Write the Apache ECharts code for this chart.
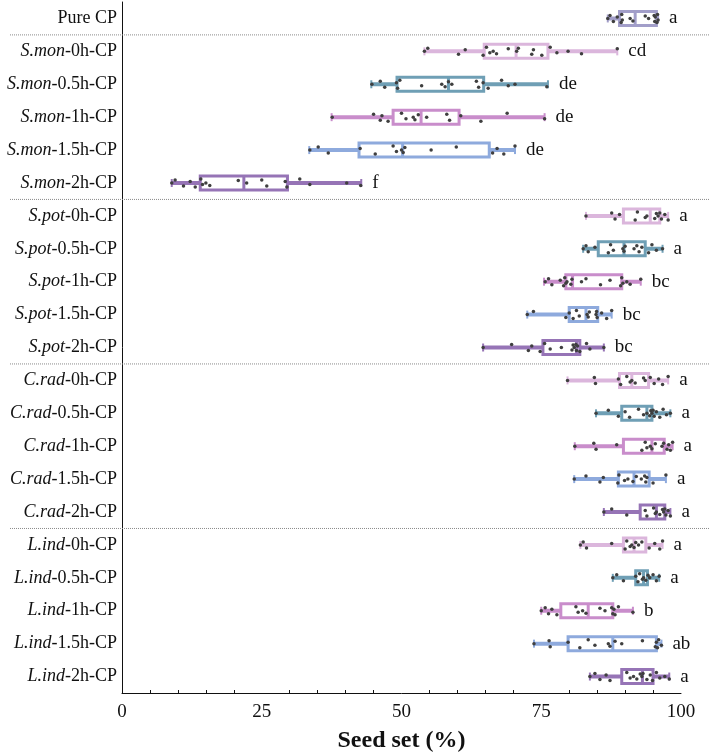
<!DOCTYPE html>
<html>
<head>
<meta charset="utf-8">
<script src="https://cdn.jsdelivr.net/npm/echarts@6/dist/echarts.min.js"></script>
<style>
html, body { margin: 0; padding: 0; background: #fff; }
#chart { width: 709px; height: 752px; }
</style>
</head>
<body>
<div id="chart"></div>
<script>
// groups, top to bottom
var categories = [
  'Pure CP',
  'S.mon-0h-CP', 'S.mon-0.5h-CP', 'S.mon-1h-CP', 'S.mon-1.5h-CP', 'S.mon-2h-CP',
  'S.pot-0h-CP', 'S.pot-0.5h-CP', 'S.pot-1h-CP', 'S.pot-1.5h-CP', 'S.pot-2h-CP',
  'C.rad-0h-CP', 'C.rad-0.5h-CP', 'C.rad-1h-CP', 'C.rad-1.5h-CP', 'C.rad-2h-CP',
  'L.ind-0h-CP', 'L.ind-0.5h-CP', 'L.ind-1h-CP', 'L.ind-1.5h-CP', 'L.ind-2h-CP'
];
var letters = ['a', 'cd', 'de', 'de', 'de', 'f', 'a', 'a', 'bc', 'bc', 'bc',
  'a', 'a', 'a', 'a', 'a', 'a', 'a', 'b', 'ab', 'a'];

// box stats
var boxMin = [86.9, 54.1, 44.6, 37.5, 33.5, 8.9, 83.0, 82.5, 75.5, 72.5, 64.6,
  79.7, 84.8, 81.0, 80.9, 86.2, 82.0, 87.8, 75.0, 73.7, 83.7];
var boxQ1 = [89.0, 64.8, 49.2, 48.5, 42.4, 14.0, 89.7, 85.2, 79.4, 80.0, 75.3,
  89.0, 89.4, 89.7, 88.8, 92.7, 89.7, 91.9, 78.5, 79.8, 89.4];
var boxMed = [91.8, 70.5, 58.4, 53.5, 50.2, 21.8, 94.5, 89.8, 80.6, 83.0, 81.3,
  91.2, 93.9, 94.8, 91.6, 95.6, 91.6, 93.3, 83.4, 87.8, 93.1];
var boxQ3 = [95.6, 76.2, 64.7, 60.3, 65.7, 29.6, 96.2, 93.6, 89.4, 85.1, 81.9,
  94.2, 94.8, 97.0, 94.3, 97.1, 93.7, 94.0, 87.8, 95.6, 95.0];
var boxMax = [95.9, 88.6, 76.2, 75.6, 70.3, 42.8, 97.7, 96.7, 92.8, 87.6, 86.2,
  97.7, 98.1, 98.5, 97.3, 98.1, 96.7, 96.1, 91.4, 96.5, 97.9];

// individual observations
var points = [
  [86.9, 87.3, 87.9, 88.6, 89.3, 89.4, 89.5, 90.9, 91.4, 93.6, 94.2, 95.2, 95.3, 95.4, 95.7, 95.8, 95.9],
  [54.1, 54.7, 60.2, 61.4, 64.6, 65.2, 65.8, 66.4, 67.0, 69.1, 70.6, 70.9, 73.3, 73.6, 75.1, 76.6, 77.8, 79.8, 82.2, 88.6],
  [44.7, 46.2, 47.0, 49.1, 49.3, 49.7, 53.6, 57.2, 57.8, 58.4, 59.0, 63.4, 63.8, 64.6, 65.5, 67.9, 69.1, 70.3, 76.0],
  [37.6, 45.0, 46.2, 46.5, 47.6, 50.0, 50.8, 52.1, 52.4, 53.0, 54.5, 58.1, 58.6, 60.6, 64.2, 68.9, 75.6],
  [33.6, 35.1, 36.9, 42.6, 45.3, 48.5, 49.1, 50.0, 50.3, 50.6, 55.3, 59.8, 66.3, 67.1, 68.3, 70.3],
  [8.9, 9.5, 11.0, 12.2, 13.1, 14.1, 14.4, 15.0, 15.7, 20.8, 22.3, 25.0, 25.9, 29.2, 29.5, 31.8, 33.6, 40.2, 42.7],
  [83.0, 87.6, 88.2, 89.0, 91.8, 92.2, 93.6, 93.9, 95.3, 95.6, 95.9, 96.2, 96.5, 97.1, 97.7],
  [82.5, 83.0, 83.4, 84.6, 87.0, 87.4, 87.9, 89.6, 89.8, 90.0, 91.6, 92.1, 92.5, 93.0, 94.2, 94.8, 95.6, 96.7],
  [75.7, 76.3, 76.9, 78.4, 79.0, 79.2, 79.4, 79.6, 80.3, 80.5, 82.2, 83.0, 85.6, 87.3, 89.2, 89.4, 89.6, 90.3, 90.9, 92.8],
  [72.5, 73.6, 79.4, 80.0, 80.7, 81.3, 81.8, 83.2, 83.4, 83.6, 84.8, 84.9, 85.0, 85.8, 86.7, 87.6],
  [64.6, 69.7, 72.7, 73.3, 74.8, 75.6, 76.6, 78.6, 80.5, 80.7, 80.9, 81.2, 81.3, 81.5, 81.9, 83.1, 83.7, 86.2],
  [79.7, 84.5, 84.7, 88.8, 89.2, 90.3, 90.9, 91.2, 91.8, 93.3, 93.6, 94.5, 95.2, 96.0, 96.7, 97.7],
  [84.8, 87.0, 88.8, 90.0, 90.8, 92.4, 93.3, 93.9, 94.4, 94.6, 94.8, 95.0, 95.2, 95.6, 96.2, 96.8, 97.4, 98.1],
  [81.0, 84.4, 84.8, 88.5, 93.0, 93.6, 93.9, 94.5, 94.8, 95.4, 96.6, 96.9, 97.5, 97.8, 98.1, 98.5],
  [80.9, 83.0, 85.5, 86.1, 88.7, 88.9, 89.9, 90.5, 91.4, 92.0, 92.9, 93.5, 93.7, 93.9, 95.0, 97.3],
  [86.2, 87.6, 90.3, 93.6, 93.9, 95.1, 95.4, 95.6, 96.2, 96.7, 96.9, 97.1, 97.3, 97.7, 98.1],
  [82.0, 82.5, 83.1, 87.6, 90.0, 90.3, 90.9, 91.2, 91.6, 91.9, 92.4, 93.0, 94.3, 95.3, 96.2, 96.7],
  [87.8, 88.5, 89.7, 91.9, 92.3, 92.6, 93.1, 93.3, 93.7, 94.1, 94.4, 95.0, 95.6, 96.1],
  [75.0, 75.7, 76.3, 76.9, 77.8, 81.2, 81.6, 82.4, 83.0, 85.5, 86.4, 87.6, 87.8, 88.0, 88.2, 88.8, 91.4],
  [73.7, 76.4, 76.6, 79.8, 81.9, 83.4, 84.6, 87.0, 87.3, 88.2, 89.4, 93.1, 95.4, 95.6, 95.8, 96.0, 96.5],
  [83.7, 84.6, 85.5, 86.6, 87.3, 90.3, 90.9, 91.5, 92.1, 92.7, 93.0, 93.2, 93.9, 94.5, 94.9, 95.6, 96.2, 97.1, 97.9]
];
var xTicks = [0, 25, 50, 75, 100];
var separatorsAfter = [0, 5, 10, 15];

var FONT = 'Liberation Serif';
var palette = ['#a29ec9', '#dbb6dc', '#6f9fb5', '#c98dcb', '#8eaadd', '#9674b6'];
function colorOf(i) { return i === 0 ? palette[0] : palette[1 + (i - 1) % 5]; }
var jitter = [0, -3, 3, -1.5, 4, -4, 1.5, 0, 2.5, -2.5];

var boxData = categories.map(function (c, i) {
  return [i, boxMin[i], boxQ1[i], boxMed[i], boxQ3[i], boxMax[i]];
});
var scatterData = [];
points.forEach(function (arr, i) {
  arr.forEach(function (v, j) {
    scatterData.push({ value: [v, i], symbolOffset: [0, jitter[j % jitter.length]] });
  });
});

function renderBox(params, api) {
  var i = api.value(0);
  var y = api.coord([0, i])[1];
  var px = function (d) { return api.coord([api.value(d), i])[0]; };
  var pMin = px(1), pQ1 = px(2), pMed = px(3), pQ3 = px(4), pMax = px(5);
  var h = 14, c = colorOf(i);
  return {
    type: 'group',
    children: [
      { type: 'line', shape: { x1: pMin, y1: y, x2: pMax, y2: y }, style: { stroke: c, lineWidth: 4 } },
      { type: 'line', shape: { x1: pMin, y1: y - 4, x2: pMin, y2: y + 4 }, style: { stroke: c, lineWidth: 2 } },
      { type: 'line', shape: { x1: pMax, y1: y - 4, x2: pMax, y2: y + 4 }, style: { stroke: c, lineWidth: 2 } },
      { type: 'rect', shape: { x: pQ1, y: y - h / 2, width: pQ3 - pQ1, height: h }, style: { fill: '#fff', stroke: c, lineWidth: 3 } },
      { type: 'line', shape: { x1: pMed, y1: y - h / 2, x2: pMed, y2: y + h / 2 }, style: { stroke: c, lineWidth: 3 } },
      { type: 'text', style: { text: letters[i], x: pMax + 11, y: y, align: 'left', verticalAlign: 'middle', font: '19px "' + FONT + '"', fill: '#111' } }
    ]
  };
}

var chart = echarts.init(document.getElementById('chart'));
chart.setOption({
  animation: false,
  textStyle: { fontFamily: FONT },
  grid: { left: 122, right: 28, top: 2, bottom: 59, outerBoundsMode: 'none' },
  xAxis: {
    type: 'value', min: 0, max: 100, interval: 25,
    axisLine: { show: true, lineStyle: { color: '#111', width: 1 } },
    axisTick: { inside: true, length: 5, lineStyle: { color: '#111' } },
    minorTick: { show: true, splitNumber: 5, length: 3, lineStyle: { color: '#111' } },
    splitLine: { show: false },
    axisLabel: {
      fontSize: 19, color: '#111', margin: 10, fontFamily: FONT,
      formatter: function (v) { return xTicks.indexOf(v) >= 0 ? String(v) : ''; }
    },
    name: 'Seed set (%)', nameLocation: 'middle', nameGap: 36,
    nameTextStyle: { fontSize: 24, fontWeight: 'bold', color: '#111', fontFamily: FONT }
  },
  yAxis: {
    type: 'category', data: categories, inverse: true,
    axisLine: { lineStyle: { color: '#111', width: 1 } },
    axisTick: { alignWithLabel: true, length: 4, lineStyle: { color: '#111' } },
    axisLabel: {
      margin: 5, color: '#111',
      formatter: function (v) {
        var k = v.indexOf('-');
        if (/^[A-Z]\.[a-z]+-/.test(v)) return '{i|' + v.slice(0, k) + '}{n|' + v.slice(k) + '}';
        return '{n|' + v + '}';
      },
      rich: {
        i: { fontStyle: 'italic', fontSize: 18, fontFamily: FONT, color: '#111' },
        n: { fontSize: 18, fontFamily: FONT, color: '#111' }
      }
    }
  },
  series: [
    {
      type: 'custom', renderItem: renderBox, data: boxData,
      encode: { x: [1, 2, 3, 4, 5], y: 0 }
    },
    {
      type: 'scatter', data: scatterData, symbolSize: 3.5,
      itemStyle: { color: '#3f3f3f', opacity: 1 }
    }
  ]
});

// dotted group separators spanning the label column too
var seps = separatorsAfter.map(function (i) {
  var y = (chart.convertToPixel({ yAxisIndex: 0 }, categories[i]) +
           chart.convertToPixel({ yAxisIndex: 0 }, categories[i + 1])) / 2;
  return {
    type: 'line', z: 10, silent: true,
    shape: { x1: 10, y1: y, x2: 709, y2: y },
    style: { stroke: '#8a8a8a', lineWidth: 1, lineDash: [1, 1] }
  };
});
chart.setOption({ graphic: seps });
</script>
</body>
</html>
